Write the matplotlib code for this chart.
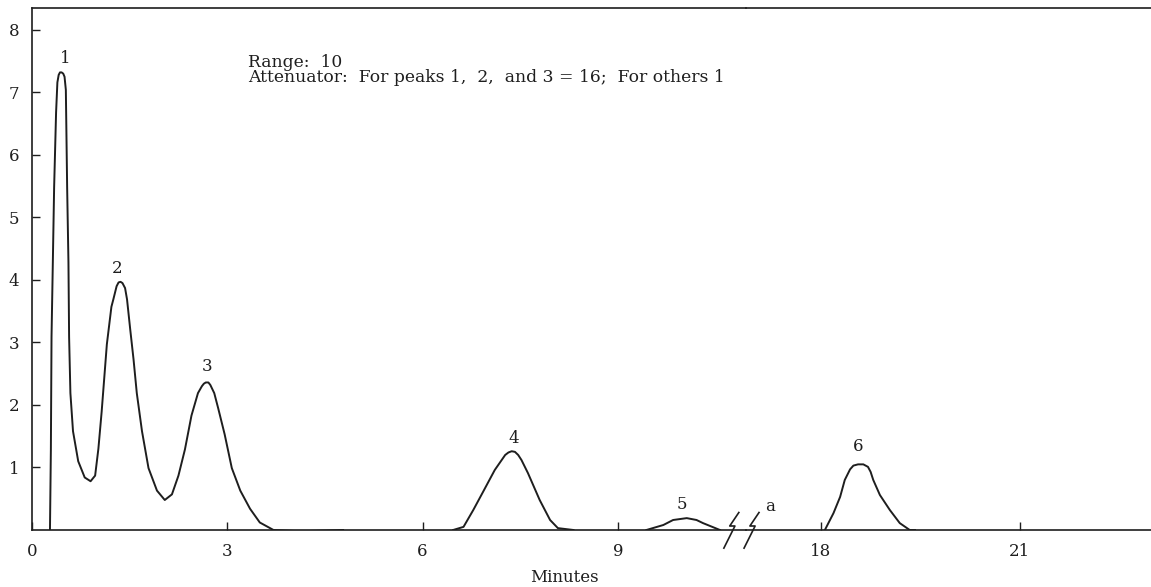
import matplotlib
matplotlib.use('Agg')
import matplotlib.pyplot as plt

plt.rcParams['font.family'] = 'DejaVu Serif'

# trace (minutes, chart divisions)
t_first = [0.276, 0.29, 0.30, 0.32, 0.34, 0.37, 0.39, 0.41, 0.43, 0.455, 0.48, 0.50, 0.52,
           0.54, 0.56, 0.57, 0.59, 0.63, 0.71, 0.81, 0.90, 0.97, 1.02, 1.07, 1.15, 1.22,
           1.25, 1.30, 1.33, 1.36, 1.39, 1.43, 1.46, 1.51, 1.56, 1.61, 1.69, 1.79, 1.92,
           2.04, 2.15, 2.25, 2.35, 2.45, 2.55, 2.61, 2.64, 2.67, 2.71, 2.74, 2.80, 2.86,
           2.96, 3.07, 3.20, 3.35, 3.50, 3.71, 4.12, 4.78]
y_first = [0.0, 1.29, 3.09, 4.28, 5.48, 6.68, 7.16, 7.28, 7.32, 7.32, 7.30, 7.25, 7.04,
           5.48, 4.28, 3.09, 2.19, 1.58, 1.10, 0.84, 0.78, 0.87, 1.30, 1.89, 2.97, 3.57,
           3.69, 3.90, 3.96, 3.97, 3.95, 3.87, 3.69, 3.20, 2.73, 2.19, 1.58, 0.99, 0.63,
           0.48, 0.57, 0.87, 1.29, 1.83, 2.19, 2.30, 2.34, 2.36, 2.36, 2.32, 2.19, 1.95,
           1.53, 0.99, 0.63, 0.34, 0.12, 0.0, -0.02, 0.0]

t_peak4 = [6.47, 6.63, 6.78, 6.93, 7.11, 7.27, 7.32, 7.37, 7.42, 7.47, 7.52, 7.62, 7.80,
           7.96, 8.08, 8.32]
y_peak4 = [0.0, 0.05, 0.32, 0.61, 0.96, 1.20, 1.24, 1.26, 1.25, 1.20, 1.12, 0.91, 0.48,
           0.16, 0.03, 0.0]

t_peak5 = [9.44, 9.70, 9.85, 10.06, 10.21, 10.31, 10.57]
y_peak5 = [0.0, 0.08, 0.16, 0.19, 0.16, 0.11, 0.0]

t_peak6 = [18.06, 18.19, 18.29, 18.36, 18.44, 18.49, 18.56, 18.64, 18.71, 18.75, 18.79,
           18.89, 19.04, 19.19, 19.34, 19.42]
y_peak6 = [0.0, 0.27, 0.53, 0.80, 0.97, 1.03, 1.05, 1.05, 1.01, 0.93, 0.80, 0.56, 0.32,
           0.11, 0.0, 0.0]

peak_names = ['1', '2', '3', '4', '5']
peak_x = [0.51, 1.31, 2.69, 7.40, 9.98]
peak_y = [7.55, 4.19, 2.62, 1.46, 0.40]

y_ticks = [1, 2, 3, 4, 5, 6, 7, 8]
x_ticks_left = [0, 3, 6, 9]
x_ticks_right = [18, 21]

ink = '#1e1e1e'

fig = plt.figure(figsize=(11.51, 5.87), dpi=100)
left_w = (746 - 32) / 1151
ax1 = fig.add_axes([32 / 1151, 57 / 587, left_w, 522 / 587])
ax2 = fig.add_axes([746 / 1151, 57 / 587, 405 / 1151, 522 / 587])
ax1.set_zorder(2)

ax1.set_xlim(0, 10.97)
ax2.set_xlim(16.87, 22.98)
for ax in (ax1, ax2):
    ax.patch.set_visible(False)
    ax.set_ylim(0, 8.35)
    ax.spines['right'].set_visible(False)
    for s in ax.spines.values():
        s.set_color(ink)
        s.set_linewidth(1.2)
    ax.tick_params(direction='in', length=6, width=1.0, color=ink,
                   labelsize=12, labelcolor=ink, pad=9)
ax2.spines['left'].set_visible(False)
ax2.set_yticks([])

ax1.set_yticks(y_ticks)
ax1.set_xticks(x_ticks_left)
ax2.set_xticks(x_ticks_right)

for t, y in [(t_first, y_first), (t_peak4, y_peak4), (t_peak5, y_peak5)]:
    ax1.plot(t, y, color=ink, lw=1.4, solid_joinstyle='round')
ax2.plot(t_peak6, y_peak6, color=ink, lw=1.4, solid_joinstyle='round')

for name, x, y in zip(peak_names, peak_x, peak_y):
    ax1.text(x, y, name, ha='center', va='center', fontsize=12, color=ink)
ax1.text(11.34, 0.37, 'a', ha='center', va='center', fontsize=12, color=ink, clip_on=False)
ax2.text(18.56, 1.33, '6', ha='center', va='center', fontsize=12, color=ink)

# break marks on the time axis
for dx in (0.0, 0.31):
    ax1.plot([10.86 + dx, 10.72 + dx, 10.80 + dx, 10.63 + dx],
             [0.28, 0.064, 0.064, -0.29], color=ink, lw=1.2, clip_on=False)

ax1.text(3.32, 7.36, 'Range:  10\nAttenuator:  For peaks 1,  2,  and 3 = 16;  For others 1',
         ha='left', va='center', fontsize=12.3, color=ink, linespacing=0.9)

fig.text(564 / 1151, 1 - 577 / 587, 'Minutes', ha='center', va='center', fontsize=12, color=ink)

fig.savefig('out.png', dpi=100)
